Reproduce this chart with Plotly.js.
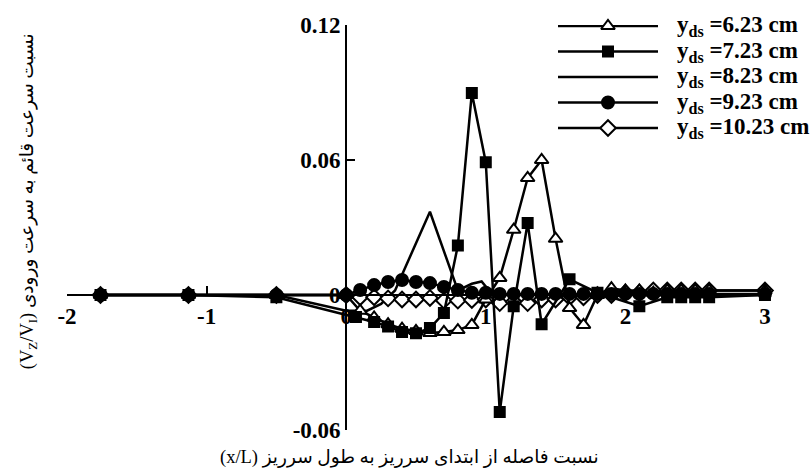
<!DOCTYPE html>
<html><head><meta charset="utf-8">
<script src="https://cdn.plot.ly/plotly-3.0.1.min.js"></script>
<style>html,body{margin:0;padding:0;background:#fff}</style>
</head><body><div id="chart" style="width:810px;height:468px"></div>
<script>
// ---- data ----
const x623 = [-1.76,-1.13,-0.5,0,0.1,0.2,0.3,0.4,0.5,0.6,0.7,0.8,0.9,1.0,1.1,1.2,1.3,1.4,1.5,1.6,1.7,1.8,1.9,2.0,2.1,2.2,2.3,2.4,2.5,2.6,3.0];
const y623 = [0,0,0,0,-0.007,-0.010,-0.013,-0.015,-0.016,-0.0169,-0.0164,-0.0156,-0.0133,-0.002,0.0076,0.029,0.052,0.060,0.025,-0.0058,-0.0133,0.000,0.003,0.002,0.002,0.001,0.002,0.002,0.002,0.002,0.002];

const x723 = [-1.76,-1.13,-0.5,0.07,0.2,0.3,0.4,0.5,0.6,0.7,0.8,0.9,1.0,1.1,1.2,1.3,1.4,1.6,1.8,2.1,2.3,2.4,2.5,2.6,3.0];
const y723 = [0,0,-0.001,-0.0098,-0.012,-0.014,-0.0164,-0.017,-0.0147,-0.008,0.022,0.0898,0.059,-0.052,-0.0050,0.032,-0.0130,0.007,0.001,-0.005,-0.001,-0.001,-0.001,-0.001,0.000];

const x823 = [-1.76,-1.13,-0.5,0,0.15,0.25,0.35,0.6,0.8,0.9,0.97,1.05,1.2,1.5,2.0,2.5,3.0];
const y823 = [0,0,0,-0.007,-0.007,-0.004,0.002,0.037,0.002,0.005,0.006,0.000,0.000,0.000,0.000,0.000,0.000];

const x923 = [-1.76,-1.13,-0.5,0,0.1,0.2,0.3,0.4,0.5,0.6,0.7,0.8,0.9,1.0,1.1,1.2,1.3,1.4,1.5,1.6,1.7,1.8,1.9,2.0,2.1,2.2,2.3,2.4,2.5,2.6,3.0];
const y923 = [0,0,0,0,0.0022,0.0044,0.0058,0.0067,0.0058,0.0053,0.0036,0.0022,0.001,0.001,0.0005,0.0005,0.0005,0.0005,0.0005,0.0005,0.0005,0.0005,0.0005,0.0005,0.0005,0.0005,0.0005,0.0005,0.0005,0.0005,0.0005];

const x1023 = [-1.76,-1.13,-0.5,0,0.1,0.2,0.3,0.4,0.5,0.6,0.7,0.8,0.9,1.0,1.1,1.2,1.3,1.4,1.5,1.6,1.7,1.8,1.9,2.0,2.1,2.2,2.3,2.4,2.5,2.6,3.0];
const y1023 = [0,0,0,0,-0.001,-0.001,-0.0015,-0.002,-0.002,-0.0013,-0.0025,-0.0025,-0.0022,-0.002,-0.0036,-0.003,-0.0036,-0.002,-0.002,-0.001,-0.001,0,0,0.001,0.001,0.002,0.002,0.002,0.002,0.002,0.002];

const seriesNames = ['6.23','7.23','8.23','9.23','10.23'];
const xTickVals = [-2,-1,0,1,2,3];
const xTickText = ['-2','-1','0','1','2','3'];
const yTickVals = [-0.06,0,0.06,0.12];
const yTickText = ['-0.06','0','0.06','0.12'];
const xTitle = '(x/L) نسبت فاصله از ابتدای سرریز به طول سرریز';
const yTitle = '(V<sub>Z</sub>/V<sub>I</sub>) نسبت سرعت قائم به سرعت ورودی';

// ---- styles ----
const styles = [
  {symbol:'triangle-up', size:12, color:'#fff', mode:'lines+markers'},
  {symbol:'square', size:10, color:'#000', mode:'lines+markers'},
  {symbol:'circle', size:0, color:'#000', mode:'lines'},
  {symbol:'circle', size:12, color:'#000', mode:'lines+markers'},
  {symbol:'diamond', size:12, color:'#fff', mode:'lines+markers'}
];
const xs = [x623,x723,x823,x923,x1023];
const ys = [y623,y723,y823,y923,y1023];
const LW = 2.5;
const serif = 'Liberation Serif, DejaVu Serif, serif';
const arab = 'Liberation Serif, DejaVu Sans, serif';

const drawOrder = [2,4,0,1,3];
const traces = [];
drawOrder.forEach(i => {
  const s = styles[i];
  traces.push({
    type:'scatter', x: xs[i], y: ys[i], mode: s.mode, name: seriesNames[i],
    showlegend:false, cliponaxis:false,
    line:{color:'#000', width:LW},
    marker:{symbol:s.symbol, size:s.size, color:s.color, line:{color:'#000', width:2}}
  });
});

// custom legend drawn on a hidden overlay subplot
const legendRows = [0,1,2,3,4];
legendRows.forEach(i => {
  const s = styles[i];
  traces.push({type:'scatter', xaxis:'x2', yaxis:'y2', x:[0,1], y:[i,i], mode:'lines',
    showlegend:false, hoverinfo:'skip', line:{color:'#000', width:LW}});
  if (s.mode !== 'lines') {
    traces.push({type:'scatter', xaxis:'x2', yaxis:'y2', x:[0.5], y:[i], mode:'markers',
      showlegend:false, hoverinfo:'skip', cliponaxis:false,
      marker:{symbol:s.symbol, size:s.size, color:s.color, line:{color:'#000', width:2}}});
  }
});

const annotations = legendRows.map(i => ({
  xref:'paper', yref:'y2', x:0.8649, y:i, xanchor:'left', yanchor:'middle', showarrow:false,
  text:'<b>y<sub>ds</sub> =' + seriesNames[i] + ' cm</b>',
  font:{family:serif, size:23, color:'#000'}
}));
annotations.push({xref:'paper', yref:'paper', x:0.4865, y:-0.069, xanchor:'center', yanchor:'middle',
  showarrow:false, text:xTitle, font:{family:arab, size:18.5, color:'#000'}});
annotations.push({xref:'paper', yref:'paper', x:-0.0555, y:0.565, xanchor:'center', yanchor:'middle',
  textangle:-90, showarrow:false, text:yTitle, font:{family:arab, size:18.5, color:'#000'}});

const layout = {
  width:810, height:468,
  margin:{l:67, r:40, t:25, b:38},
  paper_bgcolor:'#fff', plot_bgcolor:'rgba(0,0,0,0)',
  showlegend:false,
  xaxis:{range:[-2,3.036], anchor:'free', position:1/3, showgrid:false, zeroline:false,
    showline:true, linecolor:'#000', linewidth:2, ticks:'inside', ticklen:8, tickwidth:2, tickcolor:'#000',
    tickvals:xTickVals, ticktext:xTickText, tickfont:{family:serif, size:23, color:'#000', weight:'bold'}},
  yaxis:{range:[-0.06,0.12], anchor:'free', position:2/5.036, showgrid:false, zeroline:false,
    showline:true, linecolor:'#000', linewidth:2, ticks:'inside', ticklen:8, tickwidth:2, tickcolor:'#000',
    tickvals:yTickVals, ticktext:yTickText, tickfont:{family:serif, size:23, color:'#000', weight:'bold'}},
  xaxis2:{domain:[0.6984,0.8407], range:[0,1], anchor:'y2', visible:false, fixedrange:true},
  yaxis2:{domain:[0,1], range:[15.84,-0.039], anchor:'x2', visible:false, fixedrange:true},
  annotations: annotations
};

Plotly.newPlot('chart', traces, layout, {staticPlot:true, displayModeBar:false});
</script></body></html>
